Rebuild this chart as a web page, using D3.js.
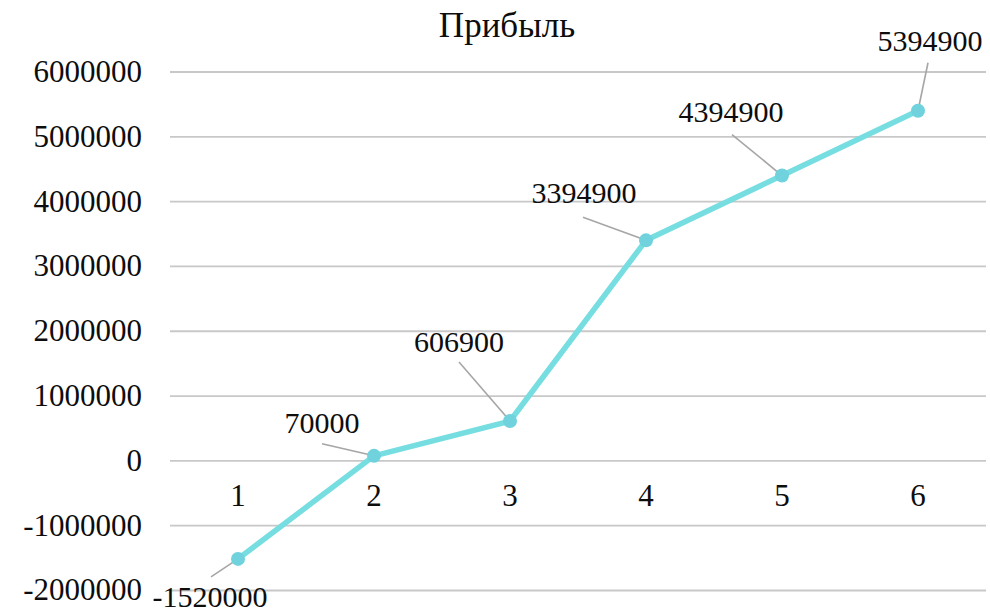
<!DOCTYPE html>
<html>
<head>
<meta charset="utf-8">
<script src="https://cdn.jsdelivr.net/npm/d3@7"></script>
<style>
  html, body { margin: 0; padding: 0; background: #ffffff; }
  svg { display: block; }
  svg text { font-family: "Liberation Serif", "Times New Roman", serif; fill: #0d0d0d; }
</style>
</head>
<body>
<svg id="chart" width="990" height="612"></svg>
<script>
// Chart data
const title = "Прибыль";
const periods = ["1", "2", "3", "4", "5", "6"];
const profit = [-1520000, 70000, 606900, 3394900, 4394900, 5394900];
const yTicks = [-2000000, -1000000, 0, 1000000, 2000000, 3000000, 4000000, 5000000, 6000000];

// Data label placement relative to each point: label centre / baseline and leader start
const labelLayout = [
  { dx: -28, dy: 48, lx: -27, ly: 18 },
  { dx: -52, dy: -23, lx: -52, ly: -12 },
  { dx: -51, dy: -69, lx: -51, ly: -59 },
  { dx: -62, dy: -37, lx: -63, ly: -23 },
  { dx: -51, dy: -54, lx: -50, ly: -41 },
  { dx: 12, dy: -60, lx: 10, ly: -48 }
];

// Plain integer format with an ASCII hyphen for negatives
const fmt = v => String(Math.round(v));

const svg = d3.select("#chart");
const plot = { left: 170, right: 986, top: 71.5, bottom: 590 };

const x = d3.scaleBand().domain(periods).range([plot.left, plot.right]);
const y = d3.scaleLinear().domain([-2000000, 6000000]).range([plot.bottom, plot.top]);
const cx = d => x(d) + x.bandwidth() / 2;

// Title
svg.append("text")
  .attr("x", 507).attr("y", 37)
  .attr("text-anchor", "middle")
  .style("font-size", "35px")
  .text(title);

// Horizontal gridlines and value axis labels
const yAxis = d3.axisLeft(y).tickValues(yTicks)
  .tickSize(-(plot.right - plot.left))
  .tickPadding(28)
  .tickFormat(fmt);
const ya = svg.append("g")
  .attr("transform", `translate(${plot.left},0)`)
  .call(yAxis);
ya.attr("font-family", null).attr("font-size", null);
ya.select(".domain").remove();
ya.selectAll(".tick line").attr("stroke", "#c8c8c8").attr("stroke-width", 1.8);
ya.selectAll(".tick text").style("font-size", "31px");

// Category labels sit just below the zero line
const xAxis = d3.axisBottom(x).tickSize(0).tickPadding(24);
const xa = svg.append("g")
  .attr("transform", `translate(0,${y(0)})`)
  .call(xAxis);
xa.attr("font-family", null).attr("font-size", null);
xa.select(".domain").remove();
xa.selectAll(".tick text").style("font-size", "31px");

const pts = periods.map((p, i) => ({ p, v: profit[i], px: cx(p), py: y(profit[i]), L: labelLayout[i] }));

// Leader lines from labels to points
svg.append("g").selectAll("line").data(pts).join("line")
  .attr("x1", d => d.px + d.L.lx).attr("y1", d => d.py + d.L.ly)
  .attr("x2", d => d.px).attr("y2", d => d.py)
  .attr("stroke", "#a6a6a6").attr("stroke-width", 1.6);

// Profit line
const line = d3.line().x(d => d.px).y(d => d.py);
svg.append("path")
  .datum(pts)
  .attr("d", line)
  .attr("fill", "none")
  .attr("stroke", "#76dde1")
  .attr("stroke-width", 5.5)
  .attr("stroke-linejoin", "round");

// Markers
svg.append("g").selectAll("circle").data(pts).join("circle")
  .attr("cx", d => d.px).attr("cy", d => d.py)
  .attr("r", 7)
  .attr("fill", "#6fd2dc");

// Value labels
svg.append("g").selectAll("text").data(pts).join("text")
  .attr("x", d => d.px + d.L.dx).attr("y", d => d.py + d.L.dy)
  .attr("text-anchor", "middle")
  .style("font-size", "30px")
  .text(d => fmt(d.v));
</script>
</body>
</html>
